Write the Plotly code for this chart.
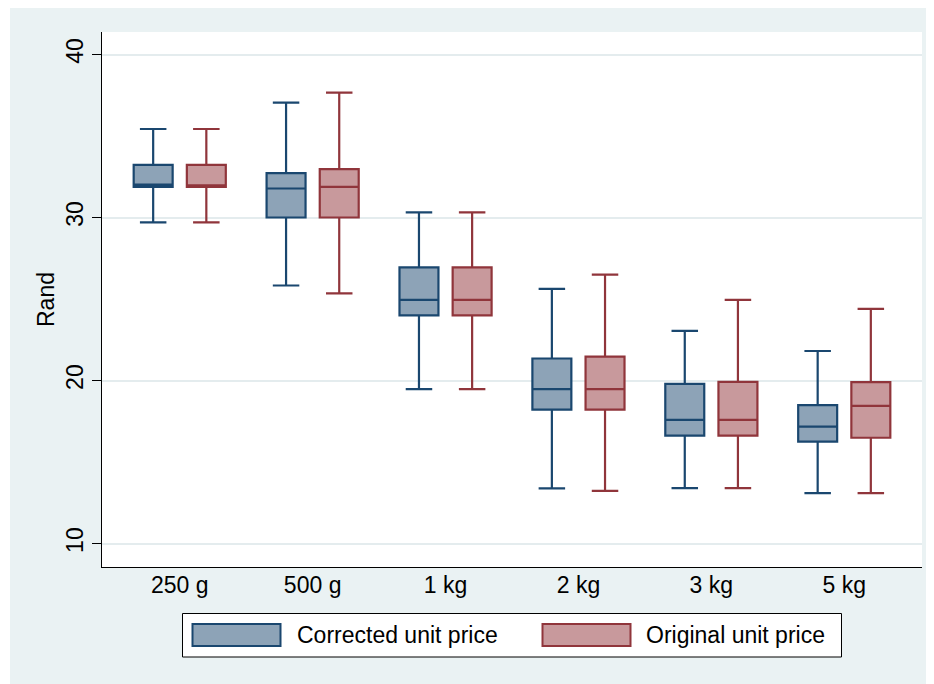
import plotly.graph_objects as go

# ---------------- data ----------------
categories = ["250 g", "500 g", "1 kg", "2 kg", "3 kg", "5 kg"]

corr_lower  = [29.70, 25.83, 19.47, 13.38, 13.40, 13.09]
corr_q1     = [31.88, 30.00, 24.00, 18.22, 16.62, 16.25]
corr_median = [32.02, 31.78, 24.95, 19.47, 17.58, 17.17]
corr_q3     = [33.23, 32.72, 26.94, 21.35, 19.80, 18.49]
corr_upper  = [35.43, 37.05, 30.32, 25.62, 23.04, 21.81]

orig_lower  = [29.70, 25.34, 19.47, 13.23, 13.40, 13.09]
orig_q1     = [31.88, 30.00, 24.00, 18.22, 16.62, 16.49]
orig_median = [31.98, 31.88, 24.95, 19.47, 17.58, 18.44]
orig_q3     = [33.23, 32.97, 26.94, 21.46, 19.92, 19.90]
orig_upper  = [35.43, 37.66, 30.32, 26.49, 24.95, 24.39]

series_names = ["Corrected unit price", "Original unit price"]
y_title = "Rand"
y_ticks = [10, 20, 30, 40]

# ---------------- style ----------------
OFF = 8  # page body margin offset
W, H = 934 - OFF, 684 - OFF
ML, MR, MT, MB = 102 - OFF, 12, 32 - OFF, 117
PW, PH = W - ML - MR, H - MT - MB
BG = "#EAF2F3"
NAVY, NAVY_FILL = "#1A476F", "#8DA3B7"
MAROON, MAROON_FILL = "#90353B", "#C8999C"
FONT = "Liberation Sans, Arial, sans-serif"
FS = 23


def px_x(px):
    return (px - OFF - ML) / PW


def px_y(py):
    return (H - MB - (py - OFF)) / PH


fig = go.Figure()
for name, lo, q1, med, q3, hi, lc, fc in [
    (series_names[0], corr_lower, corr_q1, corr_median, corr_q3, corr_upper, NAVY, NAVY_FILL),
    (series_names[1], orig_lower, orig_q1, orig_median, orig_q3, orig_upper, MAROON, MAROON_FILL),
]:
    fig.add_trace(go.Box(
        name=name, x=categories, q1=q1, median=med, q3=q3,
        lowerfence=lo, upperfence=hi,
        line=dict(color=lc, width=2.2), fillcolor=fc,
        whiskerwidth=0.68, boxpoints=False, showlegend=False,
        hoverinfo="skip",
    ))

shapes = [
    # white strip outside the graph region (left)
    dict(type="rect", xref="paper", yref="paper", x0=px_x(0), x1=px_x(10),
         y0=px_y(H + 20), y1=px_y(-5), fillcolor="white", line_width=0, layer="below"),
    # legend box
    dict(type="rect", xref="paper", yref="paper", x0=px_x(182.5), x1=px_x(841.5),
         y0=px_y(657), y1=px_y(613.5), fillcolor="white",
         line=dict(color="black", width=1)),
    dict(type="rect", xref="paper", yref="paper", x0=px_x(192.5), x1=px_x(280.5),
         y0=px_y(646), y1=px_y(624), fillcolor=NAVY_FILL,
         line=dict(color=NAVY, width=2)),
    dict(type="rect", xref="paper", yref="paper", x0=px_x(542.5), x1=px_x(630.5),
         y0=px_y(646), y1=px_y(624), fillcolor=MAROON_FILL,
         line=dict(color=MAROON, width=2)),
]

annotations = [
    dict(text=series_names[0], xref="paper", yref="paper", x=px_x(295), y=px_y(635),
         xanchor="left", yanchor="middle", showarrow=False,
         font=dict(family=FONT, size=FS, color="black")),
    dict(text=series_names[1], xref="paper", yref="paper", x=px_x(644), y=px_y(635),
         xanchor="left", yanchor="middle", showarrow=False,
         font=dict(family=FONT, size=FS, color="black")),
]

fig.update_layout(
    width=W, height=H,
    margin=dict(l=ML, r=MR, t=MT, b=MB, pad=0),
    paper_bgcolor=BG, plot_bgcolor="white",
    boxmode="group", boxgap=0.2, boxgroupgap=0.267,
    font=dict(family=FONT, size=FS, color="black"),
    shapes=shapes, annotations=annotations,
    showlegend=False,
)
fig.update_xaxes(
    type="category", categoryorder="array", categoryarray=categories,
    range=[-0.585, 5.585],
    showline=True, linecolor="black", linewidth=1.2, mirror=False,
    ticks="", showgrid=False, zeroline=False,
    ticklabelstandoff=-3,
    tickfont=dict(family=FONT, size=FS, color="black"),
)
fig.update_yaxes(
    range=[8.56, 41.38], tickvals=y_ticks, ticktext=[str(v) for v in y_ticks],
    showline=True, linecolor="black", linewidth=1.2,
    ticks="outside", ticklen=9, tickwidth=1.2, tickcolor="black",
    tickangle=-90,
    showgrid=True, gridcolor="#E4ECEE", gridwidth=1.6, zeroline=False,
    tickfont=dict(family=FONT, size=FS, color="black"),
    title=dict(text=y_title, font=dict(family=FONT, size=FS, color="black"), standoff=0),
)

fig.write_html("out.html")
